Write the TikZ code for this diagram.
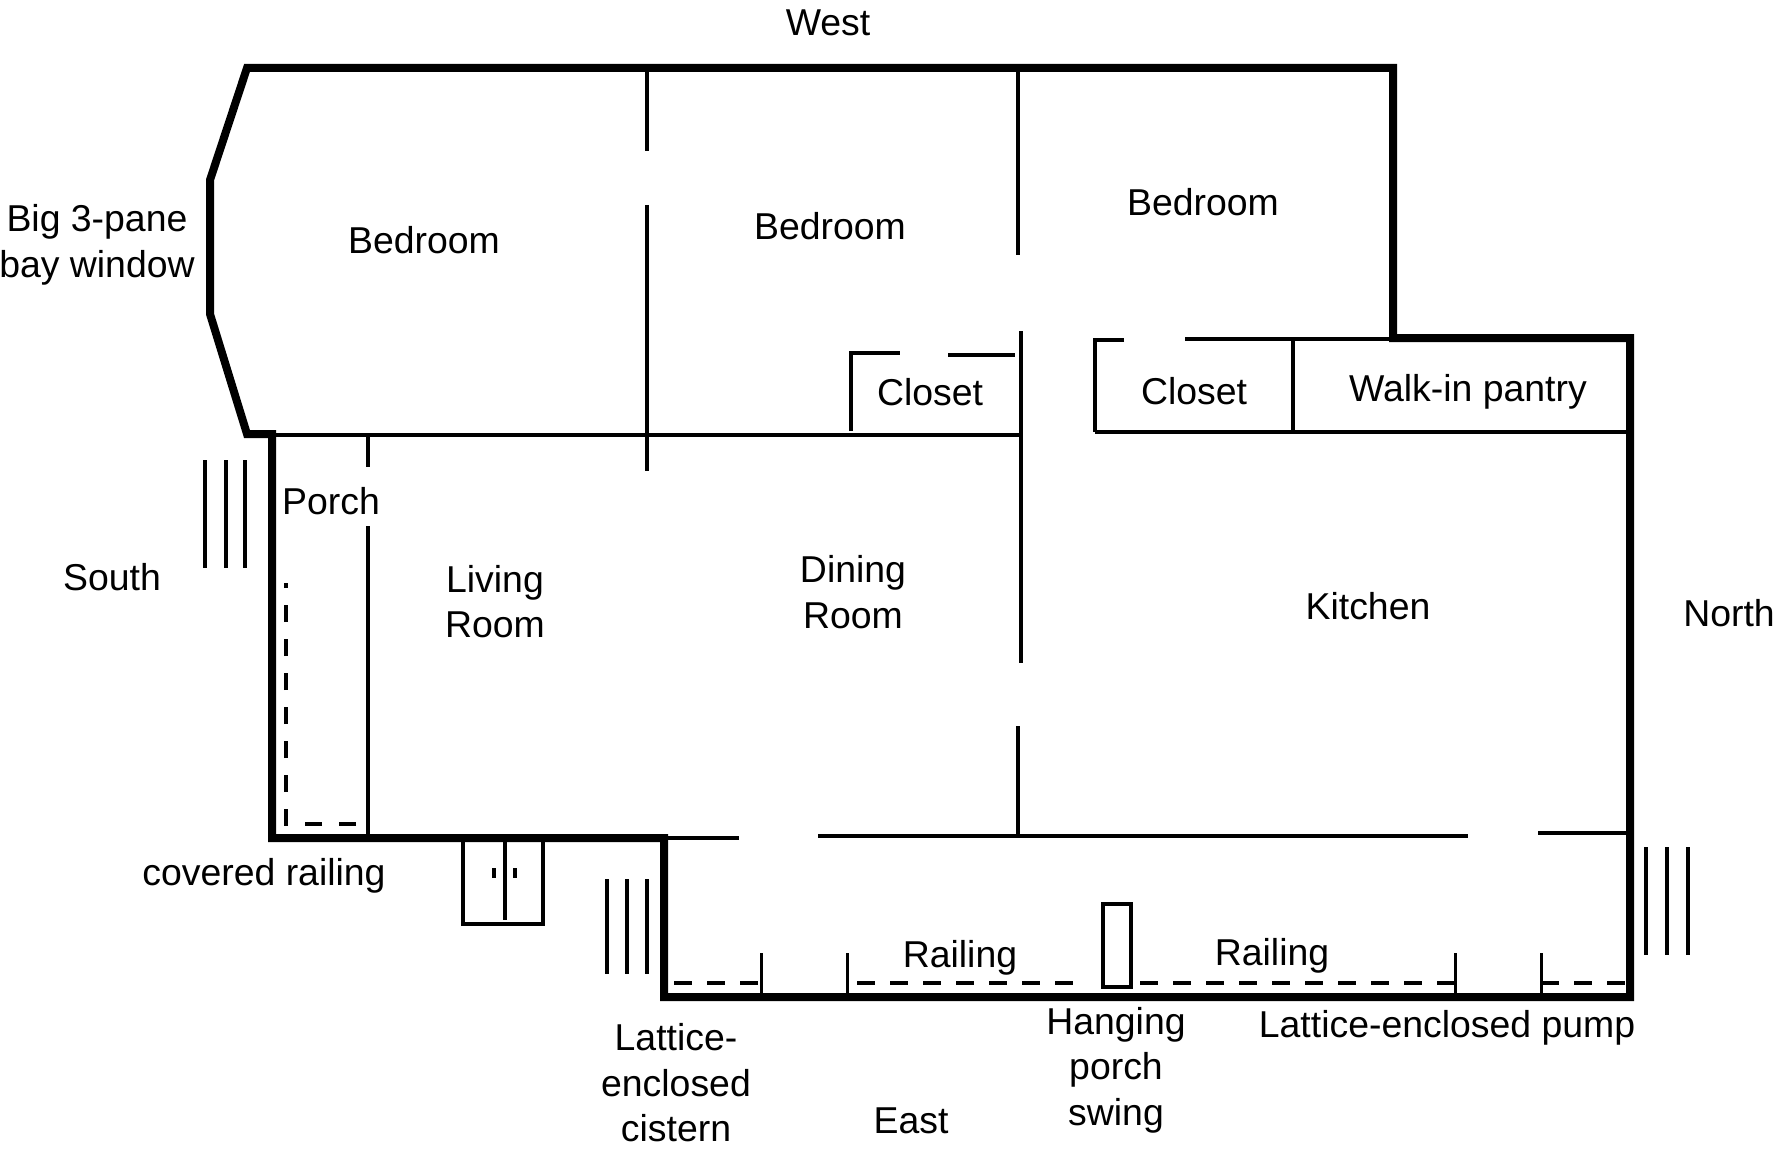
\documentclass[tikz,border=0pt]{standalone}
\usepackage{fontspec}
\setmainfont{Liberation Sans}
\tikzset{
  outerwall/.style={line width=4pt,line join=miter,line cap=butt},
  wall/.style={line width=2pt,line cap=butt},
  stub/.style={line width=1.5pt,line cap=butt},
  rail/.style={line width=2pt,dash pattern=on 9pt off 7.5pt},
  porchrail/.style={line width=2.2pt,dash pattern=on 8.5pt off 8.5pt},
  lab/.style={font=\fontsize{18.7}{22.7}\selectfont,align=center,inner sep=0pt}
}
\begin{document}
\begin{tikzpicture}[x=0.5pt,y=-0.5pt]
\useasboundingbox (0,0) rectangle (1776,1150);
% outer walls
\draw[outerwall] (273,434) -- (247,434) -- (210,314) -- (210,180) -- (247,68) -- (1393,68) -- (1393,338) -- (1630,338) -- (1630,997) -- (664,997) -- (664,838) -- (272,838) -- (272,430);
% stairs
\foreach \x in {205,226,245} \draw[wall] (\x,460) -- (\x,568);
\foreach \x in {607,627,647} \draw[wall] (\x,879) -- (\x,974);
\foreach \x in {1646,1667,1688} \draw[wall] (\x,847) -- (\x,955);
% bedroom partitions
\draw[wall] (647,68) -- (647,151);
\draw[wall] (647,205) -- (647,471);
\draw[wall] (1018,68) -- (1018,255);
% long horizontal walls
\draw[wall] (272,435) -- (1022,435);
\draw[wall] (1095,432) -- (1630,432);
% closets
\draw[wall] (851,431) -- (851,353) -- (900,353);
\draw[wall] (948,355) -- (1015,355);
\draw[wall] (1021,331) -- (1021,663);
\draw[wall] (1018,726) -- (1018,836);
\draw[wall] (1124,340) -- (1095,340) -- (1095,432);
\draw[wall] (1185,339) -- (1393,339);
\draw[wall] (1293,339) -- (1293,432);
% porch partition
\draw[wall] (368,435) -- (368,467);
\draw[wall] (368,526) -- (368,838);
% east walls
\draw[wall] (664,838) -- (739,838);
\draw[wall] (818,836) -- (1468,836);
\draw[wall] (1538,833) -- (1630,833);
% stubs
\foreach \x in {761,847,1455,1541} \draw[stub] (\x,953) -- (\x,997);
% railings
\draw[porchrail] (356,824) -- (286,824) -- (286,583);
\draw[rail] (674,983) -- (758,983);
\draw[rail] (857,983) -- (1076,983);
\draw[rail] (1140,983) -- (1455,983);
\draw[rail] (1541,983) -- (1626,983);
% swing
\draw[wall,line width=2.4pt] (1103,904) rectangle (1131,987);
% door
\draw[wall] (463,838) -- (463,924) -- (543,924) -- (543,838);
\draw[wall] (505,838) -- (505,920);
\draw[wall] (494,868) -- (494,878);
\draw[wall] (515,868) -- (515,878);
% labels
\node[lab] (west) at (828,23) {West};
\node[lab] (bay) at (97,245) {Big 3-pane\\bay window};
\node[lab] (bed1) at (424,240) {Bedroom};
\node[lab] (bed2) at (830,226) {Bedroom};
\node[lab] (bed3) at (1203,202) {Bedroom};
\node[lab] (clo1) at (930,392) {Closet};
\node[lab] (clo2) at (1194,391) {Closet};
\node[lab] (pantry) at (1468,392) {Walk-in pantry};
\node[lab] (porch) at (331,501) {Porch};
\node[lab] (living) at (495,601.5) {Living\\Room};
\node[lab] (dining) at (853,592) {Dining\\Room};
\node[lab] (kitchen) at (1368,606) {Kitchen};
\node[lab] (south) at (112,577) {South};
\node[lab] (north) at (1729,613) {North};
\node[lab] (covered) at (264,876) {covered railing};
\node[lab] (rail1) at (960,957.5) {Railing};
\node[lab] (rail2) at (1272,955.5) {Railing};
\node[lab] (pump) at (1447,1028) {Lattice-enclosed pump};
\node[lab] (swing) at (1116,1070) {Hanging\\porch\\swing};
\node[lab] (cistern) at (676,1083) {Lattice-\\enclosed\\cistern};
\node[lab] (east) at (911,1121) {East};
\end{tikzpicture}
\end{document}
